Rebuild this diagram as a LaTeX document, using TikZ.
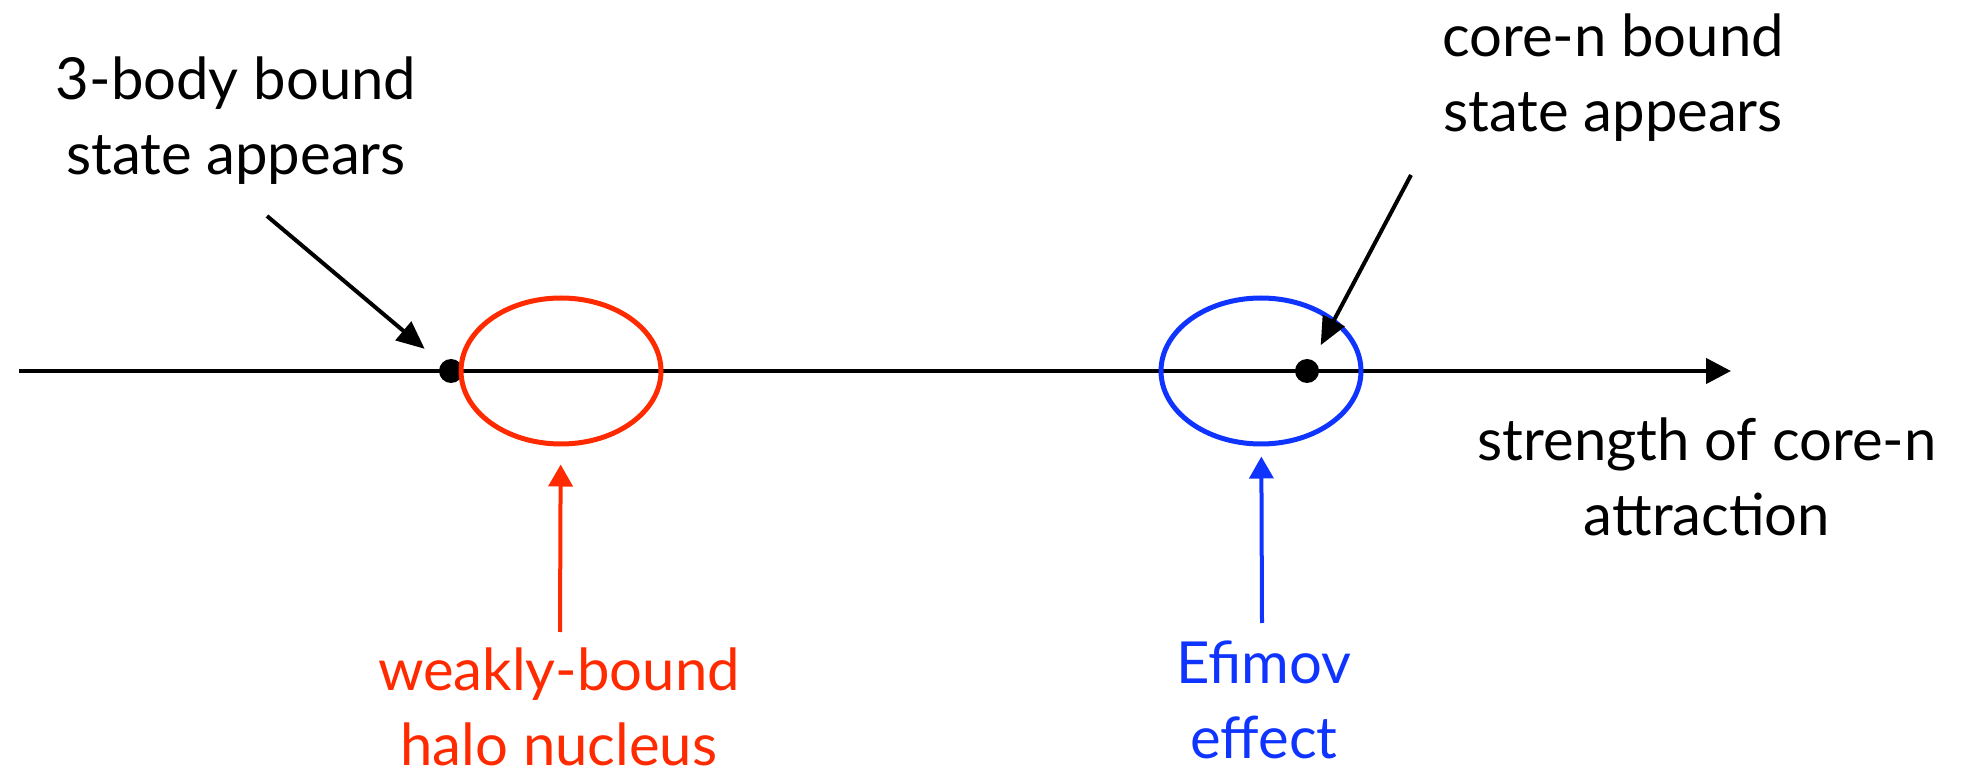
\documentclass[tikz,border=0pt]{standalone}
\usepackage{fontspec}
\setmainfont{Lato}
\usetikzlibrary{shapes.geometric,arrows.meta}
\definecolor{halored}{RGB}{255,42,0}
\definecolor{efiblue}{RGB}{16,52,255}
\begin{document}
\begin{tikzpicture}[x=0.5pt, y=-0.5pt,
	label/.style={align=center, anchor=base, inner sep=0pt, font=\fontsize{29}{37.5}\selectfont},
	dot/.style={circle, fill, inner sep=0pt, minimum size=12pt},
	region/.style={ellipse, draw, line width=2.5pt, minimum width=100pt, minimum height=73pt, inner sep=0pt},
	pointer/.style={-{Triangle[length=14pt, width=12pt]}, line width=2pt},
	marker/.style={-{Triangle[length=11pt, width=12pt]}, line width=2pt}]
	\useasboundingbox (0,0) rectangle (1969,769);
	
	\coordinate (start) at (19,371);
	\coordinate (end) at (1731,371);
	\draw[-{Triangle[length=12.5pt, width=12.5pt]}, line width=2.2pt] (start) -- (end);
	
	\node[dot] (threebody) at (451,371) {};
	\node[dot] (coren) at (1307,371) {};
	\node[region, draw=halored] (halo) at (561,371) {};
	\node[region, draw=efiblue] (efimov) at (1261,371) {};
	
	% anchor=base sits on the last line
	\node[label] (lbody) at (236,175) {3-body bound\\state appears};
	\node[label] (lcore) at (1613,132) {core-n bound\\state appears};
	\node[label] (laxis) at (1707,536) {strength of core-n\\attraction};
	\node[label, text=halored] (lhalo) at (559,765) {weakly-bound\\halo nucleus};
	\node[label, text=efiblue] (lefimov) at (1264,758) {Efimov\\effect};
	
	\coordinate (bodytail) at (267,216);
	\coordinate (coretail) at (1411,175);
	\coordinate (halotail) at (560,632);
	\coordinate (efimovtail) at (1262,623);
	\path[pointer] (bodytail) edge [shorten >=11pt] (threebody);
	\path[pointer] (coretail) edge [shorten >=8.4pt] (coren);
	\path[marker, color=halored] (halotail) edge [shorten >=9pt] (halo);
	\path[marker, color=efiblue] (efimovtail) edge [shorten >=5pt] (efimov);
\end{tikzpicture}
\end{document}
